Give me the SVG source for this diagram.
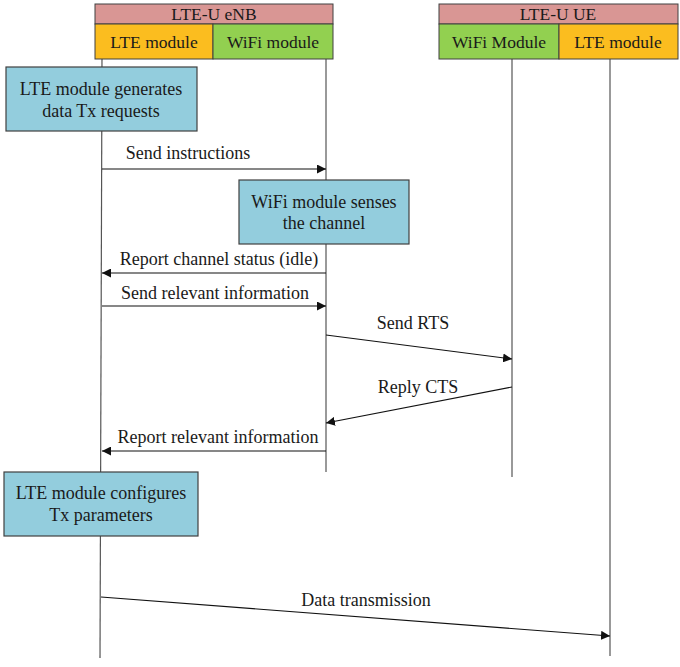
<svg xmlns="http://www.w3.org/2000/svg" width="680" height="667" viewBox="0 0 680 667" font-family="'Liberation Serif', 'DejaVu Serif', serif">
<style>
text{font-family:'Liberation Serif','DejaVu Serif',serif;font-size:18px;fill:#1a1a1a;text-anchor:middle}
.hdr{fill:#d99694;stroke:#404040;stroke-width:1}
.lte{fill:#fbbd1f;stroke:#404040;stroke-width:1}
.wifi{fill:#92d050;stroke:#404040;stroke-width:1}
.proc{fill:#93cddd;stroke:#404040;stroke-width:1.2}
.life{stroke:#555;stroke-width:1.2;fill:none}
.msg{stroke:#111;stroke-width:1.1;fill:none;marker-end:url(#ah)}
</style>
<defs>
<marker id="ah" viewBox="0 0 10 10" refX="10" refY="5" markerWidth="9" markerHeight="9" markerUnits="userSpaceOnUse" orient="auto">
<path d="M0,0 L10,5 L0,10 z" fill="#111"/>
</marker>
</defs>
<g id="lifelines">
<line class="life" x1="102" y1="59" x2="100" y2="658"/>
<line class="life" x1="326" y1="59" x2="326" y2="472"/>
<line class="life" x1="512" y1="59" x2="512" y2="477"/>
<line class="life" x1="610" y1="59" x2="610" y2="656"/>
</g>
<g id="enb">
<rect class="hdr" x="95" y="4" width="238" height="20"/>
<text x="214" y="20" style="font-size:17.5px">LTE-U eNB</text>
<rect class="lte" x="95" y="24" width="118" height="35"/>
<text x="154" y="48" style="font-size:17.5px">LTE module</text>
<rect class="wifi" x="213" y="24" width="120" height="35"/>
<text x="273" y="48" style="font-size:17.5px">WiFi module</text>
</g>
<g id="ue">
<rect class="hdr" x="439" y="4" width="239" height="20"/>
<text x="558" y="20" style="font-size:17.5px">LTE-U UE</text>
<rect class="wifi" x="439" y="24" width="120" height="35"/>
<text x="499" y="48" style="font-size:17.5px">WiFi Module</text>
<rect class="lte" x="559" y="24" width="119" height="35"/>
<text x="618" y="48" style="font-size:17.5px">LTE module</text>
</g>
<g id="box-generate">
<rect class="proc" x="6" y="67" width="191" height="64"/>
<text x="101" y="95">LTE module generates</text>
<text x="101" y="117">data Tx requests</text>
</g>
<g id="box-sense">
<rect class="proc" x="239" y="180" width="170" height="64"/>
<text x="324" y="208">WiFi module senses</text>
<text x="324" y="229">the channel</text>
</g>
<g id="box-configure">
<rect class="proc" x="4" y="472" width="194" height="64"/>
<text x="101" y="499">LTE module configures</text>
<text x="101" y="521">Tx parameters</text>
</g>
<g id="connectors">
<line class="msg" x1="102" y1="169" x2="326" y2="169"/>
<text x="188" y="159">Send instructions</text>
<line class="msg" x1="326" y1="273" x2="102" y2="273"/>
<text x="219" y="265">Report channel status (idle)</text>
<line class="msg" x1="102" y1="306" x2="326" y2="306"/>
<text x="215" y="299">Send relevant information</text>
<line class="msg" x1="326" y1="335" x2="512" y2="359"/>
<text x="413" y="329">Send RTS</text>
<line class="msg" x1="512" y1="387" x2="326" y2="423"/>
<text x="418" y="393">Reply CTS</text>
<line class="msg" x1="326" y1="451" x2="102" y2="451"/>
<text x="218" y="443">Report relevant information</text>
<line class="msg" x1="101" y1="597" x2="610" y2="636"/>
<text x="366" y="606">Data transmission</text>
</g>
</svg>
